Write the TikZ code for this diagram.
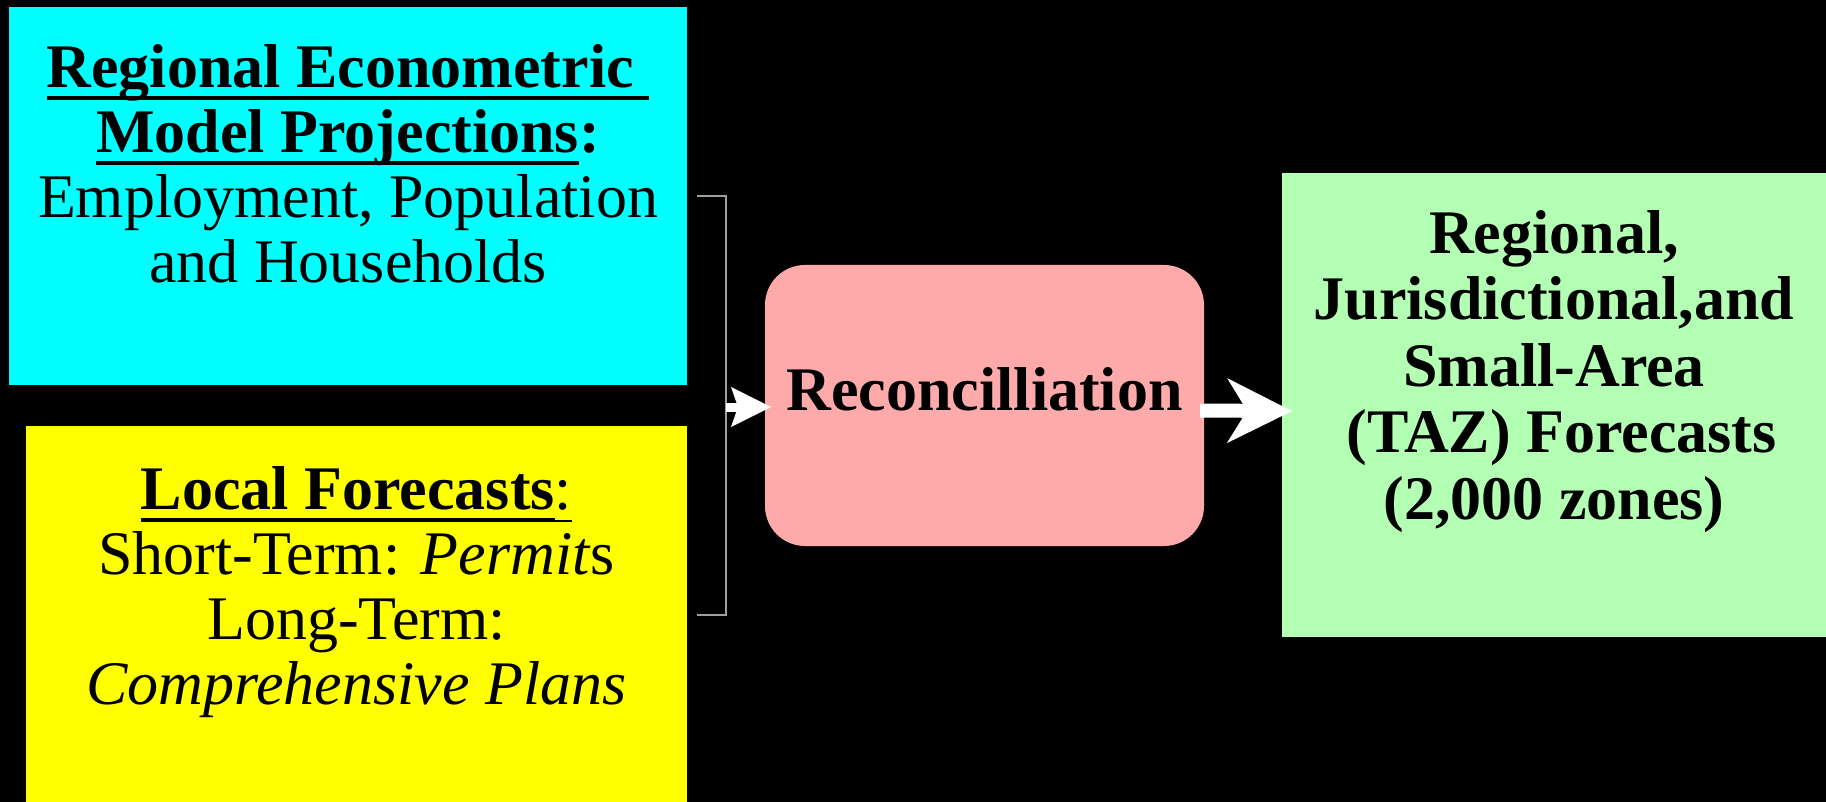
\documentclass[tikz,border=0pt]{standalone}
\usepackage{fontspec}
\setmainfont{Liberation Serif}
\usetikzlibrary{arrows.meta,positioning,calc}
\definecolor{aqua}{HTML}{00FFFF}
\definecolor{lemon}{HTML}{FFFF00}
\definecolor{rose}{HTML}{FFAAAA}
\definecolor{mint}{HTML}{B3FFB3}
\definecolor{bracegray}{HTML}{A0A0A0}
\newsavebox{\ulbox}
\newcommand{\ulbar}[2][4pt]{\sbox{\ulbox}{#2}\rlap{\rule[-13pt]{\wd\ulbox}{#1}}\usebox{\ulbox}}

\begin{document}
\begin{tikzpicture}[x=1pt,y=-1pt]
  % Styles
  \tikzset{
    box/.style={inner sep=0pt, outer sep=0pt, draw=none},
    txt/.style={inner sep=0pt, outer sep=0pt, align=center, text=black, font=\fontsize{62}{65}\selectfont},
    brace/.style={draw=bracegray, line width=1.5pt},
    smallarrow/.style={draw=white, line width=9pt, -{Stealth[length=40pt, width=40pt, inset=7pt, line width=0pt]}},
    bigarrow/.style={draw=white, line width=14pt, -{Stealth[length=65pt, width=65pt, inset=20pt, line width=0pt]}},
  }

  % Background
  \fill[black] (0,0) rectangle (1826,802);
  \useasboundingbox (0,0) rectangle (1826,802);

  % Inputs
  \node[box, fill=aqua, minimum width=678pt, minimum height=378pt] (model) at (348,196) {};
  \node[box, fill=lemon, minimum width=661pt, minimum height=376pt] (local) at (356.5,614) {};
  \node[txt, below=37pt of model.north] (modeltxt)
    {\ulbar{\textbf{Regional Econometric }}\\
     \ulbar{\textbf{Model Projections}}\textbf{:}\\
     Employment, Population\\
     and Households};
  \node[txt, below=40pt of local.north] (localtxt)
    {\ulbar{\textbf{Local Forecasts}}\ulbar[2.5pt]{:}\\
     Short-Term: \textit{Permit}s\\
     Long-Term:\\
     \textit{Comprehensive Plans}};

  % Reconciliation
  \node[box, fill=rose, rounded corners=40pt, minimum width=439pt, minimum height=281pt] (recon) at (984.5,405.5) {};
  \node[txt, font=\fontsize{62}{65}\selectfont\bfseries] (recontxt) at ([yshift=16pt]recon.center) {Reconcilliation};

  % Output
  \node[box, fill=mint, minimum width=544pt, minimum height=464pt] (forecast) at (1554,405) {};
  \node[txt, font=\fontsize{62}{66.5}\selectfont\bfseries, below=37pt of forecast.north] (forecasttxt)
    {Regional,\\
     Jurisdictional,and\\
     Small-Area\\
     \ (TAZ) Forecasts\\
     (2,000 zones)};

  % Bracket
  \coordinate (brtop) at (697,196);
  \coordinate (brmid) at (726,407);
  \coordinate (brbot) at (697,615);
  \draw[brace] (brtop) -| (brmid) |- (brbot);

  % Edges
  \draw[smallarrow, shorten >=-6pt] (brmid) -- (brmid -| recon.west);
  \draw[bigarrow, shorten >=-10pt] ([xshift=-4pt,yshift=-5pt]recon.east) -- ([yshift=-6pt]forecast.west);
\end{tikzpicture}
\end{document}
